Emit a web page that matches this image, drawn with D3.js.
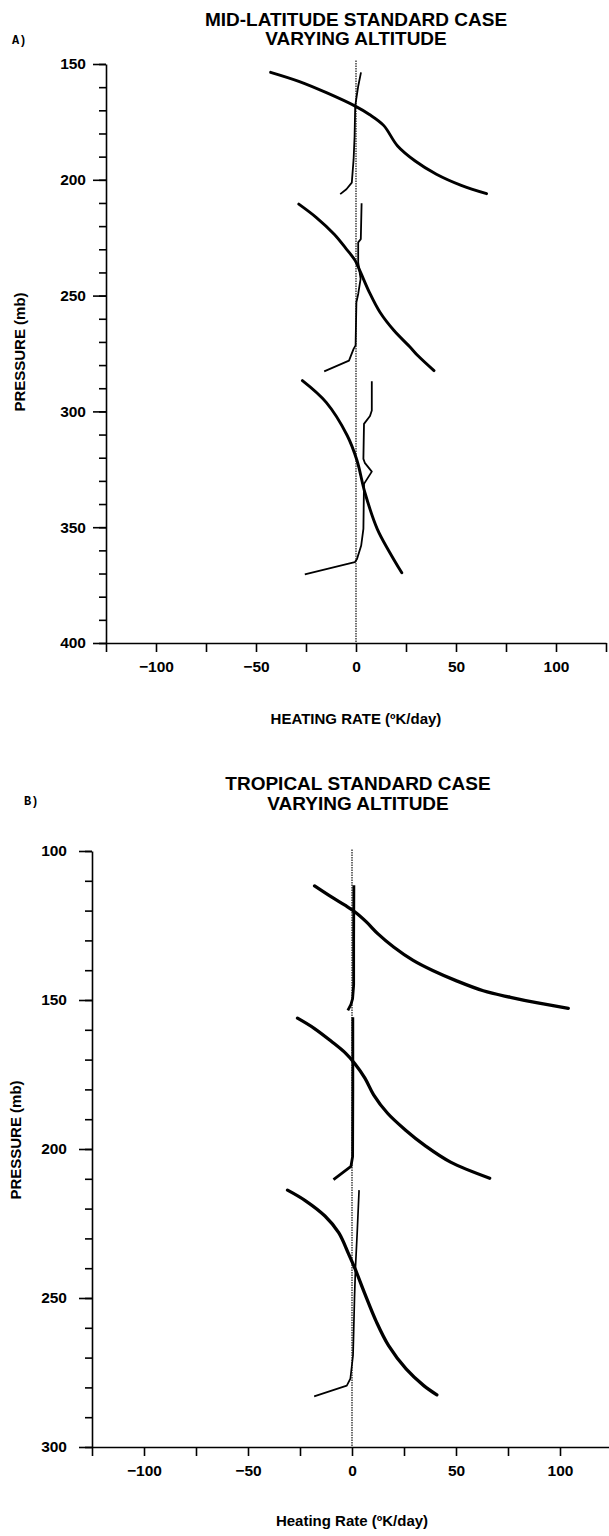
<!DOCTYPE html>
<html><head><meta charset="utf-8">
<script src="https://cdn.jsdelivr.net/npm/d3@7"></script>
<style>body{margin:0;background:#fff} svg{display:block}</style>
</head><body>
<script>
// ---------------- data ----------------
// heating rate (K/day) ticks
const rateTicks = [-100, -50, 0, 50, 100];
const rateMinorTicks = [-125, -100, -75, -50, -25, 0, 25, 50, 75, 100, 125];
const pressureTicksA = [150, 200, 250, 300, 350, 400];
const pressureTicksB = [100, 150, 200, 250, 300];

// Panel A : mid-latitude standard case  [rate, pressure]
const midLatThick1 = [[-42.7,153.6],[-28.6,157.5],[-14.5,162.5],[-0.4,168.2],[6.7,171.8],[13.8,176.5],[20.8,185.4],[29.6,191.9],[40.2,197.6],[52.6,202.4],[65.3,206.0]];
const midLatThin1  = [[2.5,153.6],[1.1,159.6],[-0.4,168.2],[-0.7,181.1],[-1.2,191.2],[-2.1,201.2],[-4.8,204.1],[-7.9,206.2]];
const midLatThick2 = [[-28.6,210.5],[-19.8,216.3],[-10.9,223.5],[-4.8,229.9],[-0.4,234.9],[2.3,240.0],[6.7,248.6],[12.0,257.2],[19.0,265.1],[27.0,272.2],[31.0,276.0],[39.0,282.4]];
const midLatThin2  = [[2.8,210.1],[2.4,225.6],[1.1,227.0],[1.1,235.7],[2.3,242.8],[1.1,249.3],[0.2,252.9],[-0.2,271.5],[-1.2,273.0],[-3.5,278.1],[-15.9,282.7]];
const midLatThick3 = [[-26.8,286.7],[-15.0,296.0],[-4.4,310.4],[0.5,321.2],[4.4,334.9],[10.6,350.7],[16.8,360.8],[22.9,369.7]];
const midLatThin3  = [[7.9,287.0],[7.9,299.6],[7.0,302.0],[4.0,305.4],[3.7,320.5],[4.4,322.2],[7.9,326.0],[4.0,331.3],[3.7,350.7],[2.6,357.9],[0.5,363.7],[-0.6,365.1],[-25.6,370.4]];

// Panel B : tropical standard case  [rate, pressure]
const tropThick1 = [[-18.0,111.7],[-9.9,115.4],[-3.4,118.2],[1.3,120.4],[6.9,123.8],[12.5,127.8],[20.0,132.2],[29.4,136.7],[38.8,140.1],[50.0,143.5],[63.1,146.9],[76.2,149.1],[89.3,151.0],[104.0,152.8]];
const tropThin1  = [[0.9,111.5],[0.8,130.0],[0.8,145.0],[0.3,149.5],[-0.5,151.5],[-2.0,153.5]];
const tropThick2 = [[-26.2,156.1],[-18.2,159.5],[-9.7,164.0],[-3.0,167.9],[1.2,171.2],[6.2,176.2],[10.4,181.8],[17.1,188.0],[25.5,193.5],[35.6,199.1],[47.4,204.4],[66.2,209.8]];
const tropThin2  = [[0.4,155.8],[0.4,180.0],[0.3,202.5],[-0.5,205.8],[-8.9,210.3]];
const tropThick3 = [[-31.0,213.8],[-22.5,217.3],[-13.0,222.5],[-6.4,228.1],[-1.6,235.3],[1.7,240.6],[5.9,248.1],[11.8,258.1],[17.6,266.0],[26.0,273.8],[34.5,279.4],[40.8,282.5]];
const tropThin3  = [[3.4,213.8],[2.5,228.0],[1.7,239.3],[1.2,250.0],[0.8,261.5],[0.5,269.3],[-0.8,277.1],[-2.5,279.4],[-18.2,283.0]];

// ---------------- drawing ----------------
const W = 609, H = 1536;
const svg = d3.select("body").append("svg").attr("width", W).attr("height", H)
  .style("font-family", "'Liberation Sans', Arial, sans-serif");

const fmt = d => (d < 0 ? "\u2212" + Math.abs(d) : String(d));

function drawPanel(o) {
  const x = d3.scaleLinear().domain([-125, 125]).range(o.xRange);
  const y = d3.scaleLinear().domain(o.pDomain).range(o.yRange);
  const g = svg.append("g");

  // titles
  o.title.forEach((t, i) => g.append("text").attr("x", o.titleX).attr("y", o.titleY[i])
    .attr("text-anchor", "middle").attr("font-weight", "bold").attr("font-size", 19).text(t));
  g.append("text").attr("x", o.tagX).attr("y", o.tagY).attr("font-family", "'Liberation Mono', monospace")
    .attr("font-weight", "bold").attr("font-size", 12).text(o.tag);

  // minor y ticks
  g.append("g").attr("transform", `translate(${x(-125)},0)`)
    .call(d3.axisLeft(y).tickValues(d3.range(o.pDomain[0], o.pDomain[1] + 1, 10)).tickSize(7).tickSizeOuter(0).tickFormat(""))
    .call(a => a.selectAll("line,path").attr("stroke", "#000").attr("stroke-width", 1.6));
  // major y ticks
  g.append("g").attr("transform", `translate(${x(-125)},0)`)
    .call(d3.axisLeft(y).tickValues(o.pTicks).tickSize(13).tickSizeOuter(0).tickPadding(o.yPad))
    .call(a => a.select(".domain").remove())
    .call(a => a.selectAll("line").attr("stroke", "#000").attr("stroke-width", 1.6))
    .call(a => a.selectAll("text").attr("font-size", 15.5).attr("font-weight", "bold").attr("fill", "#000")
      .attr("font-family", "'Liberation Sans', Arial, sans-serif"));

  // x axis
  g.append("g").attr("transform", `translate(0,${y(o.pDomain[1])})`)
    .call(d3.axisBottom(x).tickValues(rateMinorTicks).tickSize(9).tickSizeOuter(0).tickPadding(9)
      .tickFormat(d => rateTicks.includes(d) ? fmt(d) : ""))
    .call(a => a.selectAll("line,path").attr("stroke", "#000").attr("stroke-width", 1.6))
    .call(a => a.selectAll("text").attr("font-size", 15.5).attr("font-weight", "bold").attr("fill", "#000")
      .attr("font-family", "'Liberation Sans', Arial, sans-serif"));

  // axis titles
  g.append("text").attr("x", x(0)).attr("y", o.xTitleY).attr("text-anchor", "middle")
    .attr("font-weight", "bold").attr("font-size", 15).text(o.xTitle);
  g.append("text").attr("transform", `translate(${o.yTitleX},${o.yTitleY}) rotate(-90)`)
    .attr("text-anchor", "middle").attr("font-weight", "bold").attr("font-size", 15).text("PRESSURE (mb)");

  // zero reference line (dotted)
  g.append("line").attr("x1", x(0)).attr("x2", x(0)).attr("y1", y(o.zeroTop)).attr("y2", y(o.pDomain[1]))
    .attr("stroke", "#222").attr("stroke-width", 1.3).attr("stroke-dasharray", "1.5,1");

  const thickLine = d3.line().x(d => x(d[0])).y(d => y(d[1])).curve(d3.curveCatmullRom.alpha(0.5));
  const thinLine = d3.line().x(d => x(d[0])).y(d => y(d[1]));

  o.thin.forEach((c, i) => g.append("path").attr("d", thinLine(c)).attr("fill", "none")
    .attr("stroke", "#000").attr("stroke-width", o.thinW[i]).attr("stroke-linejoin", "round"));
  o.thick.forEach(c => g.append("path").attr("d", thickLine(c)).attr("fill", "none")
    .attr("stroke", "#000").attr("stroke-width", o.thickW).attr("stroke-linecap", "round"));
}

drawPanel({
  xRange: [106, 606], yRange: [64, 643], pDomain: [150, 400], pTicks: pressureTicksA, yPad: 7,
  title: ["MID-LATITUDE STANDARD CASE", "VARYING ALTITUDE"], titleX: 356, titleY: [26, 45],
  tag: "A)", tagX: 12, tagY: 44,
  xTitle: "HEATING RATE (\u00BAK/day)", xTitleY: 724, yTitleX: 25, yTitleY: 352,
  zeroTop: 148.5,
  thick: [midLatThick1, midLatThick2, midLatThick3], thickW: 2.9,
  thin: [midLatThin1, midLatThin2, midLatThin3], thinW: [1.8, 1.8, 1.8]
});

drawPanel({
  xRange: [92, 612], yRange: [851, 1447], pDomain: [100, 300], pTicks: pressureTicksB, yPad: 12,
  title: ["TROPICAL STANDARD CASE", "VARYING ALTITUDE"], titleX: 358, titleY: [790, 810],
  tag: "B)", tagX: 24, tagY: 805,
  xTitle: "Heating Rate (\u00BAK/day)", xTitleY: 1526, yTitleX: 21, yTitleY: 1140,
  zeroTop: 99.5,
  thick: [tropThick1, tropThick2, tropThick3], thickW: 3.3,
  thin: [tropThin1, tropThin2, tropThin3], thinW: [2.8, 2.8, 1.7]
});
</script>
</body></html>
